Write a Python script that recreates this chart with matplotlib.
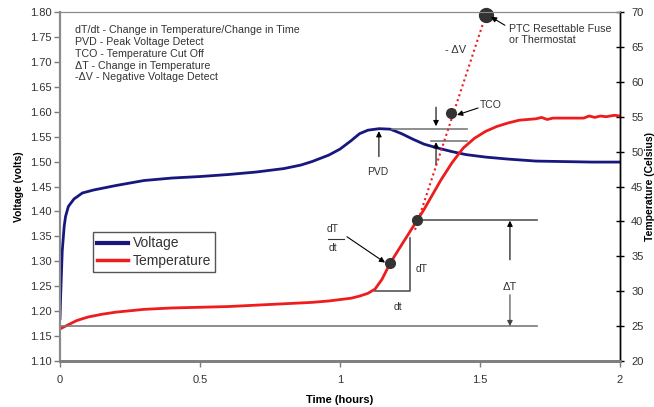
import numpy as np
import matplotlib.pyplot as plt

plt.rcParams['font.family'] = ['Liberation Sans', 'DejaVu Sans']

# cell voltage during charge
time_v = [0, 0.003, 0.008, 0.015, 0.02, 0.03, 0.05, 0.08, 0.12, 0.2, 0.3, 0.4,
          0.5, 0.6, 0.7, 0.8, 0.86, 0.9, 0.96, 1.0, 1.04, 1.07, 1.1, 1.14, 1.18,
          1.22, 1.26, 1.3, 1.35, 1.4, 1.45, 1.52, 1.6, 1.7, 1.8, 1.9, 2.0]
voltage = [1.185, 1.24, 1.32, 1.37, 1.39, 1.41, 1.425, 1.437, 1.443, 1.452, 1.462,
           1.467, 1.470, 1.474, 1.479, 1.486, 1.493, 1.500, 1.513, 1.525, 1.542,
           1.556, 1.563, 1.566, 1.565, 1.556, 1.545, 1.535, 1.527, 1.520, 1.514,
           1.509, 1.505, 1.501, 1.500, 1.499, 1.499]

# cell temperature during charge
time_t = [0, 0.03, 0.06, 0.1, 0.15, 0.2, 0.3, 0.4, 0.5, 0.6, 0.7, 0.8, 0.9, 0.96,
          1.0, 1.04, 1.07, 1.1, 1.125, 1.15, 1.179, 1.21, 1.24, 1.276, 1.30, 1.33,
          1.36, 1.40, 1.44, 1.48, 1.52, 1.56, 1.60, 1.64, 1.67, 1.70, 1.72, 1.74,
          1.76, 1.80, 1.84, 1.87, 1.89, 1.91, 1.93, 1.95, 1.98, 2.0]
temperature = [24.6, 25.2, 25.8, 26.3, 26.7, 27.0, 27.4, 27.6, 27.7, 27.8, 28.0,
               28.2, 28.4, 28.6, 28.8, 29.0, 29.3, 29.7, 30.3, 31.7, 34.0, 36.0,
               37.9, 40.2, 41.7, 43.8, 45.9, 48.4, 50.5, 51.9, 52.9, 53.6, 54.1,
               54.5, 54.6, 54.7, 54.9, 54.6, 54.8, 54.8, 54.8, 54.8, 55.1, 54.9,
               55.1, 55.0, 55.2, 55.1]

x_ticks = [0, 0.5, 1, 1.5, 2]
x_ticklabels = ['0', '0.5', '1', '1.5', '2']
v_ticks = np.arange(1.10, 1.801, 0.05)
t_ticks = np.arange(20, 71, 5)

# marked points
slope_pt = (1.179, 34.0)
dT_pt = (1.276, 40.2)
tco_pt = (1.396, 55.5)
ptc_pt = (1.521, 69.6)
dotted_start = (1.268, 38.8)
base_temp = 25.0
peak_v = 1.566
dv_level = 1.541

notes = ("dT/dt - Change in Temperature/Change in Time\n"
         "PVD - Peak Voltage Detect\n"
         "TCO - Temperature Cut Off\n"
         "\u0394T - Change in Temperature\n"
         "-\u0394V - Negative Voltage Detect")

blue = '#17177f'
red = '#ee1c1c'
grey = '#7a7a7a'
txt = '#333333'

fig = plt.figure(figsize=(6.54, 4.07), dpi=100)
ax = fig.add_axes([0.0917, 0.113, 0.8563, 0.8575])
ax2 = ax.twinx()

lv, = ax.plot(time_v, voltage, color=blue, lw=2)
lt, = ax2.plot(time_t, temperature, color=red, lw=2)

ax.set_xlim(0, 2)
ax.set_ylim(1.10, 1.80)
ax2.set_ylim(20, 70)
ax.set_xticks(x_ticks)
ax.set_xticklabels(x_ticklabels)
ax.set_yticks(v_ticks)
ax.set_yticklabels(['%.2f' % v for v in v_ticks])
ax2.set_yticks(t_ticks)

ax.tick_params(axis='y', direction='out', length=4, width=1, color=grey,
               labelsize=8, labelcolor=txt, pad=2)
ax.tick_params(axis='x', direction='out', length=4, width=1, color=grey,
               labelsize=8, labelcolor=txt, pad=6)
ax2.tick_params(axis='y', direction='inout', length=6, width=1, color='k',
                labelsize=8, labelcolor=txt, pad=5)

for a in (ax, ax2):
    a.spines['top'].set_color('#8a8a8a')
    a.spines['left'].set_color('#8a8a8a')
    a.spines['left'].set_linewidth(1.5)
    a.spines['bottom'].set_color('#808080')
    a.spines['bottom'].set_linewidth(2)
    a.spines['right'].set_color('k')
    a.spines['right'].set_linewidth(1)

ax.set_xlabel('Time (hours)', fontsize=8, fontweight='bold', labelpad=7)
ax.set_ylabel('Voltage (volts)', fontsize=7.5, fontweight='bold', labelpad=4)
ax2.set_ylabel('Temperature (Celsius)', fontsize=7.5, fontweight='bold')
ax2.yaxis.set_label_coords(1.044, 0.5)

ax.text(0.027, 0.962, notes, transform=ax.transAxes, fontsize=7.7, va='top',
        ha='left', color=txt, linespacing=1.22)

arrow = dict(arrowstyle='-|>', color='k', lw=0.8, mutation_scale=8,
             shrinkA=0, shrinkB=0)

# peak voltage and negative delta V markers
ax.plot([1.186, 1.454], [peak_v, peak_v], color=grey, lw=1.2)
ax.plot([1.325, 1.454], [dv_level, dv_level], color=grey, lw=1.2)
ax.annotate('', xy=(1.139, 1.561), xytext=(1.139, 1.51), arrowprops=arrow)
ax.text(1.136, 1.479, 'PVD', fontsize=7.5, ha='center', va='center', color=txt)
ax.annotate('', xy=(1.343, 1.571), xytext=(1.343, 1.609), arrowprops=arrow)
ax.annotate('', xy=(1.343, 1.539), xytext=(1.343, 1.493), arrowprops=arrow)
ax.text(1.414, 1.724, '- \u0394V', fontsize=8, ha='center', va='center',
        color=txt)

# temperature rise markers
ax2.plot([dotted_start[0], ptc_pt[0]], [dotted_start[1], ptc_pt[1]],
         color=red, lw=1.5, ls=(0, (1, 1.5)))
ax2.plot([0, 1.704], [base_temp, base_temp], color=grey, lw=1.2)
ax2.plot([dT_pt[0], 1.704], [dT_pt[1], dT_pt[1]], color='#555555', lw=1.2)
ax2.plot([1.125, 1.25, 1.25], [30.05, 30.05, 37.6], color='#555555', lw=1.2)
ax2.text(1.291, 33.2, 'dT', fontsize=7.5, ha='center', va='center', color=txt)
ax2.text(1.207, 27.7, 'dt', fontsize=7.5, ha='center', va='center', color=txt)
ax2.text(0.975, 38.9, 'dT', fontsize=7.5, ha='center', va='center', color=txt)
ax2.text(0.975, 36.2, 'dt', fontsize=7.5, ha='center', va='center', color=txt)
ax2.plot([0.957, 1.014], [37.55, 37.55], color=txt, lw=0.8)
ax2.annotate('', xy=(1.161, 34.1), xytext=(1.025, 37.8), arrowprops=arrow)
ax2.annotate('', xy=(1.607, dT_pt[1] - 0.1), xytext=(1.607, 34.5),
             arrowprops=arrow)
ax2.annotate('', xy=(1.607, base_temp), xytext=(1.607, 29.5),
             arrowprops=dict(arrow, color='#444444'))
ax2.text(1.607, 30.6, '\u0394T', fontsize=8, ha='center', va='center',
         color=txt)

ax2.plot(*slope_pt, 'o', color='#333333', ms=7)
ax2.plot(*dT_pt, 'o', color='#333333', ms=7)
ax2.plot(*tco_pt, 'o', color='#333333', ms=7)
ax2.plot(*ptc_pt, 'o', color='#333333', ms=10, clip_on=False)

ax2.annotate('', xy=(1.418, 55.25), xytext=(1.493, 56.25), arrowprops=arrow)
ax2.text(1.5, 56.7, 'TCO', fontsize=7.5, ha='left', va='center', color=txt)
ax2.annotate('', xy=(1.539, 69.3), xytext=(1.589, 68.1), arrowprops=arrow)
ax2.text(1.604, 66.8, 'PTC Resettable Fuse\nor Thermostat', fontsize=7.7,
         ha='left', va='center', color=txt, linespacing=1.2)

leg = ax2.legend([lv, lt], ['Voltage', 'Temperature'], loc='lower left',
                 bbox_to_anchor=(0.059, 0.255), fontsize=10, fancybox=False,
                 framealpha=1, edgecolor='#555555', handlelength=2.2,
                 handletextpad=0.35, borderpad=0.3, labelspacing=0.25,
                 borderaxespad=0)
leg.get_frame().set_linewidth(1)
leg.get_lines()[0].set_linewidth(3)
leg.get_lines()[1].set_linewidth(2.5)
for t in leg.get_texts():
    t.set_color(txt)

plt.savefig('out.png', dpi=100)
